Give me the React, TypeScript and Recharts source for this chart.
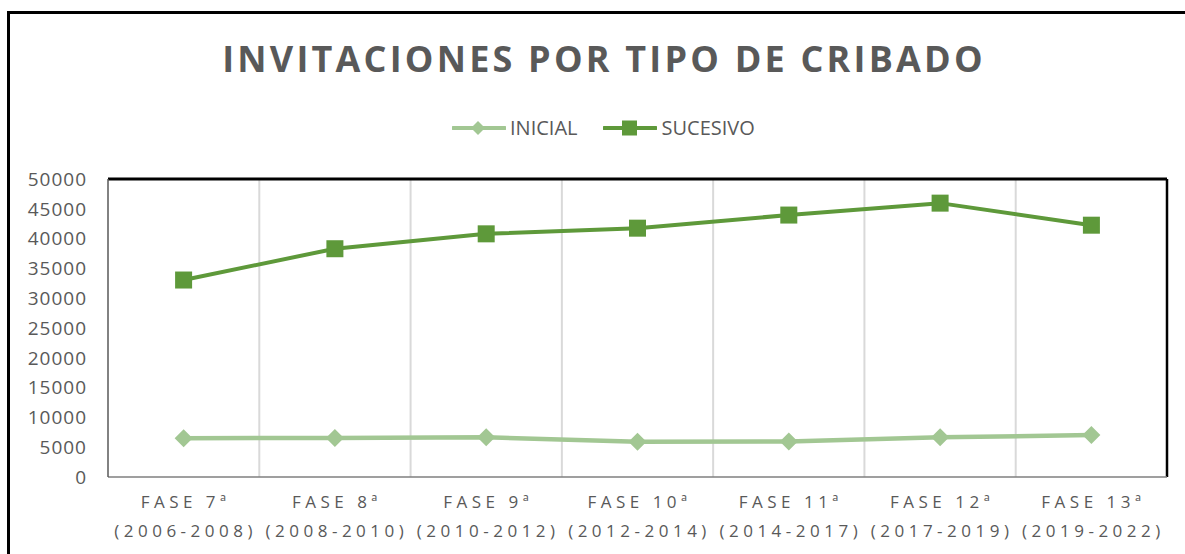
import { LineChart, Line, XAxis, YAxis, ReferenceLine } from 'recharts';

// data
const fases = ['FASE 7ª', 'FASE 8ª', 'FASE 9ª', 'FASE 10ª', 'FASE 11ª', 'FASE 12ª', 'FASE 13ª'];
const periodos = ['(2006-2008)', '(2008-2010)', '(2010-2012)', '(2012-2014)', '(2014-2017)', '(2017-2019)', '(2019-2022)'];
const inicial = [6500, 6550, 6650, 5900, 5950, 6650, 7050];
const sucesivo = [33050, 38300, 40800, 41750, 43950, 45950, 42250];
const yTicks = [0, 5000, 10000, 15000, 20000, 25000, 30000, 35000, 40000, 45000, 50000];
const separators = [1, 2, 3, 4, 5, 6];

const LIGHT = '#a2c793';
const DARK = '#5e993a';
const TEXT = '#595959';
const FONT = '"Open Sans", sans-serif';

const data = fases.map((fase, i) => ({
  fase,
  periodo: periodos[i],
  INICIAL: inicial[i],
  SUCESIVO: sucesivo[i],
}));

// two-line category label, letter-spaced like the original
const PhaseTick = ({ x, y, payload, index }: any) => (
  <g transform={`translate(${x},${y})`}>
    <text textAnchor="middle" fill={TEXT} fontSize={17} fontFamily={FONT} style={{ letterSpacing: '4.5px' }}>
      <tspan x={2} y={16} dominantBaseline="central">{payload.value}</tspan>
      <tspan x={2} y={45} dominantBaseline="central">{periodos[index]}</tspan>
    </text>
  </g>
);

const SquareDot = ({ cx, cy, index }: any) => {
  if (cx == null || cy == null) return null;
  return <rect key={`sq-${index}`} x={cx - 8.5} y={cy - 8.5} width={17} height={17} fill={DARK} />;
};

const DiamondDot = ({ cx, cy, index }: any) => {
  if (cx == null || cy == null) return null;
  const r = 9;
  return (
    <polygon
      key={`di-${index}`}
      points={`${cx},${cy - r} ${cx + r},${cy} ${cx},${cy + r} ${cx - r},${cy}`}
      fill={LIGHT}
    />
  );
};

function LegendBox() {
  return (
    <div style={{ position: 'absolute', left: 452, top: 116, display: 'flex', alignItems: 'center', fontFamily: FONT, fontSize: 20, color: TEXT }}>
      <svg width={54} height={24}>
        <line x1={1} y1={12} x2={53} y2={12} stroke={LIGHT} strokeWidth={4} strokeLinecap="round" />
        <polygon points="26,5 33,12 26,19 19,12" fill={LIGHT} />
      </svg>
      <span style={{ marginLeft: 4, lineHeight: '24px' }}>INICIAL</span>
      <svg width={54} height={24} style={{ marginLeft: 25 }}>
        <line x1={1} y1={12} x2={53} y2={12} stroke={DARK} strokeWidth={4} strokeLinecap="round" />
        <rect x={19} y={4.5} width={15} height={15} fill={DARK} />
      </svg>
      <span style={{ marginLeft: 5, lineHeight: '24px' }}>SUCESIVO</span>
    </div>
  );
}

export default function App() {
  return (
    <div style={{ position: 'fixed', left: 0, top: 0, width: 1185, height: 554, overflow: 'hidden', background: '#fff' }}>
      {/* outer frame, right and bottom edges fall outside the picture */}
      <div style={{ position: 'absolute', left: 7, top: 11, width: 1250, height: 650, border: '3px solid #000' }} />
      <div
        style={{
          position: 'absolute',
          left: 8,
          width: 1186,
          top: 41,
          lineHeight: '36px',
          textAlign: 'center',
          fontFamily: FONT,
          fontWeight: 700,
          fontSize: 36,
          letterSpacing: '3.2px',
          paddingLeft: 3,
          color: TEXT,
        }}
      >
        INVITACIONES POR TIPO DE CRIBADO
      </div>
      <LegendBox />
      <div style={{ position: 'absolute', left: 0, top: 0 }}>
        <LineChart width={1185} height={554} data={data} margin={{ top: 179, right: 18, bottom: 0, left: 8 }}>
          <XAxis
            dataKey="fase"
            height={77}
            padding={{ left: 75.6, right: 75.6 }}
            axisLine={{ stroke: '#7f7f7f', strokeWidth: 1.5 }}
            tickLine={false}
            tick={<PhaseTick />}
            interval={0}
          />
          {/* hidden 0..7 axis, only used to place the separators between phases */}
          <XAxis
            xAxisId="sep"
            dataKey="INICIAL"
            type="number"
            domain={[0, 7]}
            allowDataOverflow
            ticks={[0, 1, 2, 3, 4, 5, 6, 7]}
            hide
          />
          <YAxis
            width={100}
            domain={[0, 50000]}
            ticks={yTicks}
            interval={0}
            axisLine={{ stroke: '#595959', strokeWidth: 1.5 }}
            tickLine={false}
            tickSize={0}
            tickMargin={21}
            tick={{ fill: TEXT, fontSize: 19, fontFamily: FONT, style: { letterSpacing: '1px' } }}
          />
          {separators.map((s) => (
            <ReferenceLine key={s} xAxisId="sep" x={s} stroke="#d9d9d9" strokeWidth={2} />
          ))}
          <ReferenceLine xAxisId="sep" x={7} stroke="#000" strokeWidth={2.5} />
          <ReferenceLine y={50000} stroke="#000" strokeWidth={3} />
          <Line
            dataKey="INICIAL"
            stroke={LIGHT}
            strokeWidth={4.5}
            dot={<DiamondDot />}
            activeDot={false}
            isAnimationActive={false}
          />
          <Line
            dataKey="SUCESIVO"
            stroke={DARK}
            strokeWidth={4}
            dot={<SquareDot />}
            activeDot={false}
            isAnimationActive={false}
          />
        </LineChart>
      </div>
    </div>
  );
}
